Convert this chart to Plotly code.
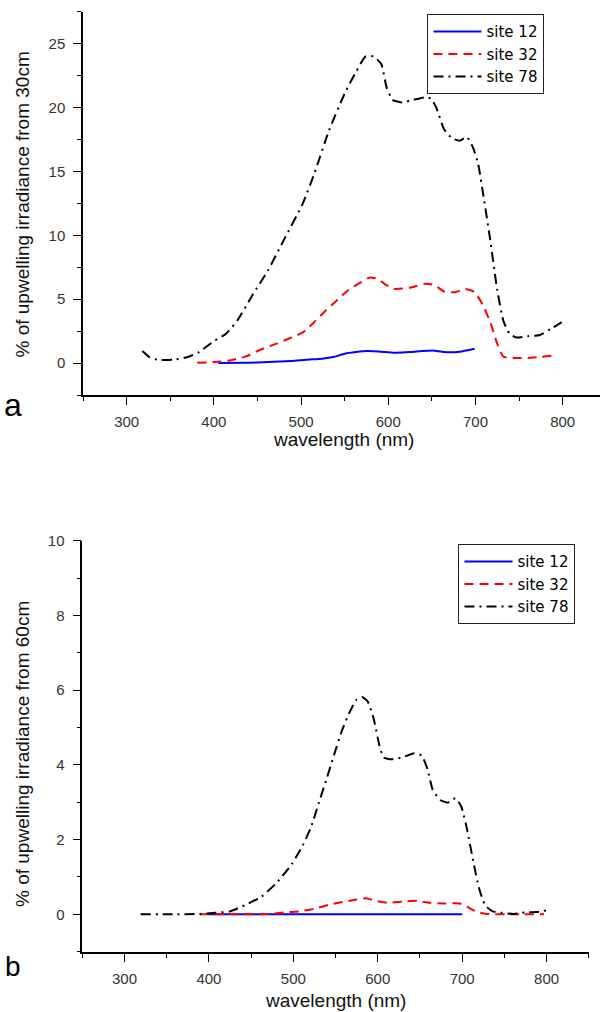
import plotly.graph_objects as go

# ---------------- data: panel a (30 cm) ----------------
a78_x = [318, 326, 335, 353, 370, 383, 401, 414, 427, 445, 462, 480, 502, 515, 532, 550, 563, 574, 583, 592,
         598, 605, 616, 629, 642, 649, 655, 664, 673, 682, 690, 697, 703, 710, 717, 725, 732, 739, 747, 760,
         774, 787, 799]
a78_y = [0.94, 0.47, 0.26, 0.26, 0.47, 0.86, 1.77, 2.3, 3.34, 5.4, 7.25, 9.6, 12.5, 14.8, 18.2, 21.1, 22.8, 24.0, 24.0, 23.4,
         21.6, 20.6, 20.4, 20.6, 20.8, 20.7, 20.0, 18.3, 17.6, 17.4, 17.7, 16.9, 15.6, 12.7, 9.6, 5.7, 3.3, 2.3, 2.0, 2.1,
         2.2, 2.7, 3.2]

a32_x = [381, 401, 418, 436, 453, 471, 489, 502, 515, 528, 541, 554, 568, 579, 587, 598, 607, 625, 642, 653,
         664, 677, 688, 699, 708, 717, 725, 732, 743, 760, 774, 787]
a32_y = [0.03, 0.08, 0.2, 0.5, 1.04, 1.5, 2.0, 2.4, 3.2, 4.1, 4.9, 5.7, 6.3, 6.7, 6.6, 6.1, 5.8, 5.9, 6.2, 6.1,
         5.6, 5.55, 5.8, 5.55, 4.6, 3.2, 1.5, 0.5, 0.4, 0.4, 0.47, 0.57]

a12_x = [405, 440, 462, 489, 506, 524, 537, 550, 563, 576, 589, 607, 625, 638, 651, 664, 682, 699]
a12_y = [0.0, 0.03, 0.08, 0.16, 0.26, 0.34, 0.47, 0.73, 0.86, 0.94, 0.91, 0.81, 0.86, 0.94, 0.99, 0.86, 0.89, 1.12]

# ---------------- data: panel b (60 cm) ----------------
b78_x = [319, 357, 389, 407, 425, 443, 462, 480, 498, 511, 521, 530, 539, 548, 557, 566, 575, 582, 588, 595,
         602, 607, 616, 629, 643, 652, 659, 665, 674, 683, 692, 699, 706, 713, 720, 727, 736, 747, 761, 774,
         788, 801]
b78_y = [0.0, 0.0, 0.01, 0.04, 0.08, 0.25, 0.47, 0.84, 1.34, 1.84, 2.34, 2.97, 3.6, 4.25, 4.88, 5.38, 5.75, 5.81, 5.7, 5.25,
         4.52, 4.2, 4.15, 4.2, 4.31, 4.25, 3.88, 3.34, 3.06, 2.99, 3.11, 2.88, 2.25, 1.43, 0.7, 0.25, 0.08, 0.04, 0.01, 0.05,
         0.06, 0.11]

b32_x = [389, 425, 471, 489, 507, 525, 543, 561, 575, 586, 598, 611, 629, 647, 661, 679, 697, 706, 718, 729, 752, 797]
b32_y = [0.0, 0.0, 0.01, 0.05, 0.08, 0.15, 0.26, 0.34, 0.4, 0.43, 0.36, 0.31, 0.34, 0.36, 0.31, 0.29, 0.29, 0.2, 0.06, 0.01, 0.0, 0.0]

b12_x = [400, 450, 500, 550, 600, 650, 700]
b12_y = [0.0, 0.0, 0.0, 0.0, 0.0, 0.0, 0.0]

names = ["site 12", "site 32", "site 78"]
x_ticks = [300, 400, 500, 600, 700, 800]

FONT = "Liberation Sans, Arial, sans-serif"
LFONT = "DejaVu Sans, Liberation Sans, sans-serif"
styles = [
    dict(color="#0000FF", width=2, dash="solid"),
    dict(color="#FF0000", width=2, dash="9px,6px"),
    dict(color="#000000", width=2, dash="10px,5px,2px,5px"),
]

fig = go.Figure()
for (xs, ys), name, st in zip([(a12_x, a12_y), (a32_x, a32_y), (a78_x, a78_y)], names, styles):
    fig.add_trace(go.Scatter(x=xs, y=ys, mode="lines", name=name, line=dict(shape="spline", smoothing=0.5, **st),
                             xaxis="x", yaxis="y", legend="legend"))
for (xs, ys), name, st in zip([(b12_x, b12_y), (b32_x, b32_y), (b78_x, b78_y)], names, styles):
    fig.add_trace(go.Scatter(x=xs, y=ys, mode="lines", name=name, line=dict(shape="spline", smoothing=0.5, **st),
                             xaxis="x2", yaxis="y2", legend="legend2"))

H = 1012.0
W = 600.0

def ax_common():
    return dict(showline=True, linecolor="black", linewidth=1.6, mirror=False,
                ticks="outside", ticklen=8, tickwidth=1.4, tickcolor="black",
                showgrid=False, zeroline=False, automargin=False,
                tickfont=dict(family=FONT, size=15, color="#333333"))

xa = ax_common()
xa.update(domain=[83.1 / W, 1.0], range=[250, 842.8], anchor="y", tickvals=x_ticks,
          minor=dict(dtick=50, tick0=0, ticks="outside", ticklen=4, tickwidth=1.4, tickcolor="black"),
          ticklabelstandoff=4)
ya = ax_common()
ya.update(domain=[1 - 395 / H, 1 - 11.7 / H], range=[-2.5, 27.5], anchor="x", dtick=5, tick0=0,
          minor=dict(dtick=2.5, tick0=0, ticks="outside", ticklen=4, tickwidth=1.4, tickcolor="black"),
          ticklabelstandoff=5)
xb = ax_common()
xb.update(domain=[82.3 / W, 588.8 / W], range=[250, 850], anchor="y2", tickvals=x_ticks,
          minor=dict(dtick=50, tick0=0, ticks="outside", ticklen=4, tickwidth=1.4, tickcolor="black"),
          ticklabelstandoff=4)
yb = ax_common()
yb.update(domain=[1 - 951.7 / H, 1 - 540.7 / H], range=[-1, 10], anchor="x2", dtick=2, tick0=0,
          minor=dict(dtick=1, tick0=0, ticks="outside", ticklen=4, tickwidth=1.4, tickcolor="black"),
          ticklabelstandoff=5)

legend_common = dict(bgcolor="white", bordercolor="#222222", borderwidth=1.2,
                     font=dict(family=LFONT, size=15, color="black"),
                     xanchor="left", yanchor="top", itemwidth=48, tracegroupgap=0)

fig.update_layout(
    width=600, height=1012,
    margin=dict(l=0, r=0, t=0, b=0, autoexpand=False),
    paper_bgcolor="white", plot_bgcolor="white",
    showlegend=True,
    xaxis=xa, yaxis=ya, xaxis2=xb, yaxis2=yb,
    legend=dict(x=427.3 / W, y=1 - 14 / H, **legend_common),
    legend2=dict(x=458.3 / W, y=1 - 544 / H, **legend_common),
    annotations=[
        dict(text="wavelength (nm)", x=343.5 / W, y=1 - 439 / H, xref="paper", yref="paper",
             showarrow=False, xanchor="center", yanchor="middle", font=dict(family=FONT, size=19, color="#111111")),
        dict(text="% of upwelling irradiance from 30cm", x=22 / W, y=1 - 204.5 / H, xref="paper", yref="paper",
             showarrow=False, textangle=-90, xanchor="center", yanchor="middle",
             font=dict(family=FONT, size=19, color="#111111")),
        dict(text="wavelength (nm)", x=335.5 / W, y=1 - 1000 / H, xref="paper", yref="paper",
             showarrow=False, xanchor="center", yanchor="middle", font=dict(family=FONT, size=19, color="#111111")),
        dict(text="% of upwelling irradiance from 60cm", x=22 / W, y=1 - 754 / H, xref="paper", yref="paper",
             showarrow=False, textangle=-90, xanchor="center", yanchor="middle",
             font=dict(family=FONT, size=19, color="#111111")),
        dict(text="a", x=13 / W, y=1 - 405 / H, xref="paper", yref="paper", showarrow=False,
             xanchor="center", yanchor="middle", font=dict(family=FONT, size=32, color="black")),
        dict(text="b", x=13 / W, y=1 - 966 / H, xref="paper", yref="paper", showarrow=False,
             xanchor="center", yanchor="middle", font=dict(family=FONT, size=28, color="black")),
    ],
)

fig.write_html("out.html", config={"displayModeBar": False},
               post_script="document.body.style.margin='0';document.body.style.overflow='hidden';")
